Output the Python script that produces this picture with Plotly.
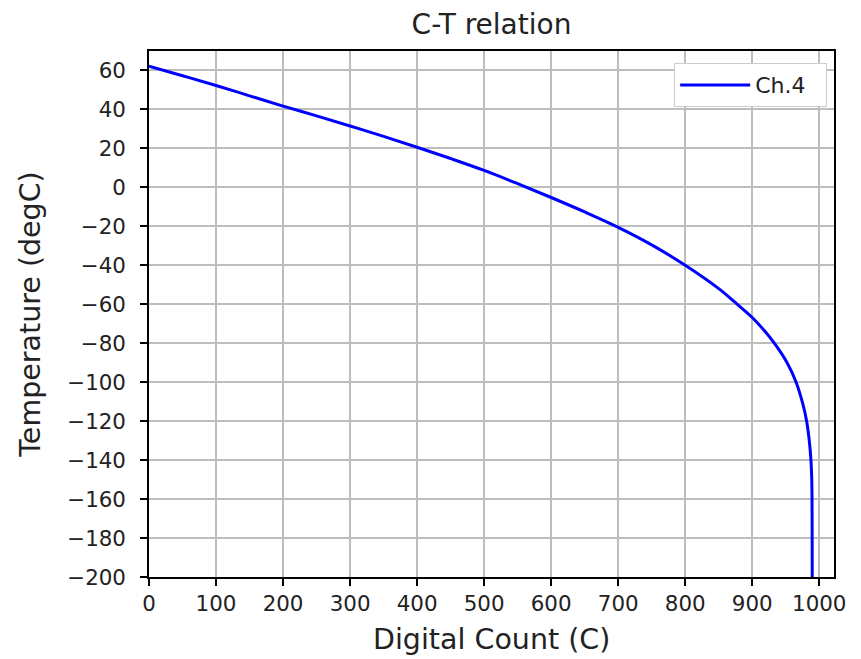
import plotly.graph_objects as go

# Data
digital_count = [0, 50, 100, 150, 200, 250, 300, 350, 400, 450, 500, 550, 600,
                 650, 700, 750, 800, 850, 875, 900, 918, 934, 952, 965.5, 975.2,
                 981.2, 985.1, 987.6, 988.8, 989.2, 989.4, 989.5]
temperature = [62.2, 57.3, 52.3, 47.0, 41.7, 36.7, 31.5, 26.2, 20.6, 14.8, 8.7,
               1.9, -5.2, -12.6, -20.5, -29.5, -40.0, -52.0, -59.2, -66.8,
               -73.5, -80.5, -90.0, -100.0, -110.8, -120.0, -130.0, -140.0,
               -150.0, -160.0, -180.0, -200.0]
x_ticks = [0, 100, 200, 300, 400, 500, 600, 700, 800, 900, 1000]
y_ticks = [60, 40, 20, 0, -20, -40, -60, -80, -100, -120, -140, -160, -180, -200]
series_name = "Ch.4"
x_title = "Digital Count (C)"
y_title = "Temperature (degC)"

FONT = "DejaVu Sans"
TXT = "#222222"

fig = go.Figure()
fig.add_trace(go.Scatter(
    x=digital_count, y=temperature, mode="lines", name=series_name,
    line=dict(color="#0000ff", width=3, shape="spline", smoothing=1.0),
))

axis_common = dict(
    showline=True, mirror=True, linecolor="#000000", linewidth=1.5,
    ticks="outside", ticklen=7, tickwidth=1.5, tickcolor="#000000",
    showgrid=True, gridcolor="#bdbdbd", gridwidth=1.6,
    zeroline=False,
    tickfont=dict(family=FONT, size=21.4, color=TXT),
)

W, H = 853, 651  # page body has an 8px margin
fig.update_layout(
    width=W, height=H,
    margin=dict(l=141, r=27, t=43, b=82, autoexpand=False),
    paper_bgcolor="#ffffff", plot_bgcolor="#ffffff",
    font=dict(family=FONT, color=TXT),
    title=dict(text="C-T relation", font=dict(family=FONT, size=28, color=TXT),
               x=0.5, xref="paper", xanchor="center",
               y=1 - 16 / H, yref="container", yanchor="middle"),
    xaxis=dict(range=[0, 1022], tickvals=x_ticks,
               ticktext=[str(v) for v in x_ticks],
               automargin=False,
               **axis_common),
    yaxis=dict(range=[-200, 70], tickvals=y_ticks,
               ticktext=[str(v).replace("-", "\u2212") for v in y_ticks],
               automargin=False, ticklabelstandoff=10,
               title=dict(text=y_title, standoff=18,
                          font=dict(family=FONT, size=28.5, color=TXT)),
               **axis_common),
    legend=dict(x=0.99, xanchor="right", y=0.977, yanchor="top",
                orientation="h",
                bgcolor="#ffffff", bordercolor="#cccccc", borderwidth=1,
                itemwidth=70, entrywidth=66,
                font=dict(family=FONT, size=22, color=TXT)),
    showlegend=True,
    annotations=[dict(text=x_title, xref="paper", yref="paper", x=0.5, y=0,
                      xanchor="center", yanchor="middle", yshift=-62,
                      showarrow=False,
                      font=dict(family=FONT, size=28.5, color=TXT))],
)

fig.write_html("out.html")
